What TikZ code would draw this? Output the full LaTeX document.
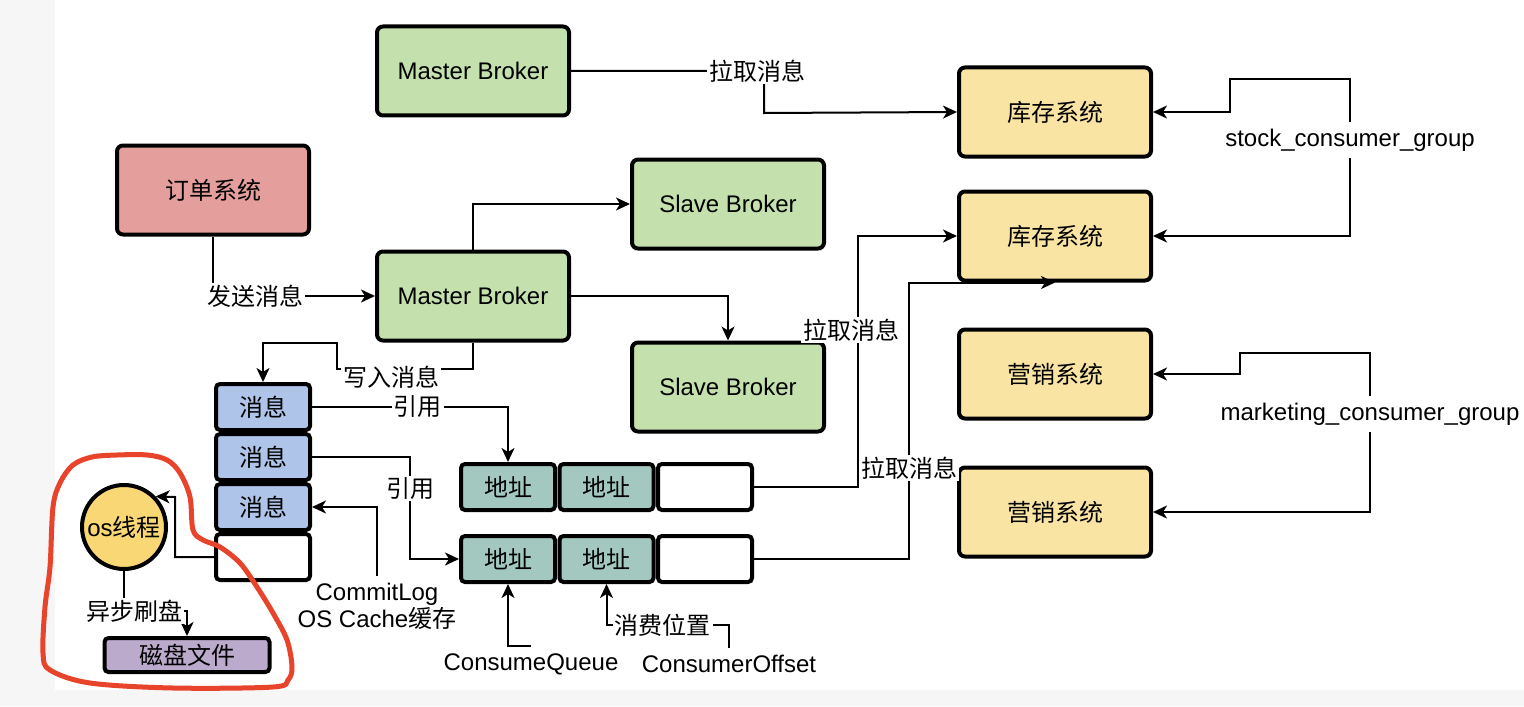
\documentclass[tikz,border=0pt]{standalone}
\usepackage{fontspec}
\setmainfont{Liberation Sans}
\newfontfamily\cjk{Noto Sans CJK SC}
\usepackage{tikz}
\usetikzlibrary{arrows.meta,calc}

\definecolor{brokergreen}{RGB}{196,224,173}
\definecolor{ordred}{RGB}{228,158,155}
\definecolor{sysyellow}{RGB}{249,228,163}
\definecolor{msgblue}{RGB}{174,196,232}
\definecolor{addrteal}{RGB}{162,200,191}
\definecolor{osyellow}{RGB}{249,215,117}
\definecolor{diskpurple}{RGB}{188,170,204}
\definecolor{markred}{RGB}{232,67,43}
\definecolor{sidegray}{RGB}{246,246,246}

\newcommand{\zh}[1]{{\cjk #1}}

\begin{document}
\begin{tikzpicture}[x=0.5pt,y=-0.5pt,>={Stealth[length=7pt,width=6.5pt,inset=2pt]},
	box/.style={draw,line width=2pt,rounded corners=3pt,minimum width=96pt,minimum height=44.5pt,font=\fontsize{12}{14}\selectfont},
	cell/.style={draw,line width=2pt,rounded corners=2pt,minimum width=47pt,minimum height=23pt,font=\fontsize{12}{14}\selectfont},
	lbl/.style={fill=white,inner sep=1pt,font=\fontsize{12}{13.5}\selectfont},
	txt/.style={font=\fontsize{12}{13.5}\selectfont},
	conn/.style={->,line width=1pt}]
	
	\useasboundingbox (0,0) rectangle (1524,706);
	\fill[sidegray] (0,0) rectangle (55,706);
	\fill[sidegray] (55,690) rectangle (1524,706);
	
	\node[box,fill=brokergreen] (mb1) at (473,71) {Master Broker};
	\node[box,fill=ordred] (ord) at (213,190) {\zh{订单系统}};
	\node[box,fill=brokergreen] (mb2) at (473,296) {Master Broker};
	\node[box,fill=brokergreen] (sb1) at (728,204) {Slave Broker};
	\node[box,fill=brokergreen] (sb2) at (728,387) {Slave Broker};
	\node[box,fill=sysyellow] (k1) at (1055,112) {\zh{库存系统}};
	\node[box,fill=sysyellow] (k2) at (1055,236) {\zh{库存系统}};
	\node[box,fill=sysyellow] (y1) at (1055,374) {\zh{营销系统}};
	\node[box,fill=sysyellow] (y2) at (1055,512) {\zh{营销系统}};
	
	\foreach \i/\y in {1/407,2/457,3/507}
		\node[cell,fill=msgblue] (m\i) at (263,\y) {\zh{消息}};
	\node[cell] (m4) at (263,557) {};
	
	\foreach \r/\y in {1/487,2/559} {
		\node[cell,fill=addrteal] (a\r1) at (508,\y) {\zh{地址}};
		\node[cell,fill=addrteal] (a\r2) at (606.5,\y) {\zh{地址}};
		\node[cell] (a\r3) at (705,\y) {};
	}
	
	\node[circle,draw,line width=2pt,fill=osyellow,minimum size=42pt,inner sep=0pt,txt] (os) at (124,527) {os\zh{线程}};
	\node[draw,line width=2pt,rounded corners=2pt,fill=diskpurple,minimum width=82.5pt,minimum height=17pt,inner sep=0pt,txt] (disk) at (187,655) {\zh{磁盘文件}};
	
	\node[txt,align=center] (cl) at (377,606) {CommitLog\\OS Cache\zh{缓存}};
	\node[txt] (cq) at (531,664) {ConsumeQueue};
	\node[txt] (co) at (729,664) {ConsumerOffset};
	\node[txt,inner sep=3pt] (sg) at (1350,140) {stock\_consumer\_group};
	\node[txt,inner sep=3pt] (mg) at (1370,414) {marketing\_consumer\_group};
	
	\coordinate (t1) at (764,113);
	\coordinate (w1) at (473,369);
	\coordinate (w2) at (337,343);
	\coordinate (r2) at (410,520);
	\coordinate (o1) at (175,497);
	\coordinate (f1) at (187,611);
	\coordinate (q1) at (606.5,625);
	\coordinate (p1) at (858,330);
	\coordinate (p2) at (909,468);
	\coordinate (s1) at (1230,79);
	\coordinate (s2) at (1240,353);
	
	\draw[conn] (mb1.east) -| node[lbl,xshift=-3.5pt]{\zh{拉取消息}} (t1) -- (k1.west);
	\draw[conn] (ord.south) |- node[lbl,pos=.63]{\zh{发送消息}} (mb2.west);
	\draw[conn] (mb2.north) |- (sb1.west);
	\draw[conn] (mb2.east) -| (sb2.north);
	\draw[conn] (mb2.south) -- (w1) -| node[lbl,pos=.3,yshift=-4pt]{\zh{写入消息}} (w2) -| (m1.north);
	
	\draw[conn] (m1.east) -| node[lbl,pos=.27]{\zh{引用}} (a11.north);
	\draw[conn] (m2.east) -| node[lbl,pos=.75]{\zh{引用}} (r2) |- (a21.west);
	\draw[conn] (cl.north) |- (m3.east);
	\draw[conn] (m4.west) -| (o1) -- (os.44);
	\draw[conn] (os.south) |- node[lbl,pos=.58]{\zh{异步刷盘}} (f1) -- (disk.north);
	
	\draw[conn] (cq.north) -| (a21.south);
	\draw[conn] (co.north) |- node[lbl,pos=.77]{\zh{消费位置}} (q1) -- (a22.south);
	\draw[conn] (a13.east) -| (p1) node[lbl,xshift=-3.5pt]{\zh{拉取消息}} |- (k2.west);
	\draw[conn] (a23.east) -| (p2) node[lbl]{\zh{拉取消息}} |- (k2.south);
	
	\draw[conn] (sg.north) |- (s1) |- (k1.east);
	\draw[conn] (sg.south) |- (k2.east);
	\draw[conn] (mg.north) |- (s2) |- (y1.east);
	\draw[conn] (mg.south) |- (y2.east);
	
	% hand drawn mark
	\draw[markred,line width=2.5pt,line join=round] plot[smooth cycle,tension=.55] coordinates {(73,465) (92,457) (117,455) (147,455) (167,460) (180,473) (190,497) (193,530) (203,540) (220,547) (240,563) (257,587) (273,613) (287,640) (292,667) (288,680) (273,687) (173,688) (90,683) (50,670) (43,653) (45,607) (50,567) (53,507) (60,483)};
	
\end{tikzpicture}
\end{document}
